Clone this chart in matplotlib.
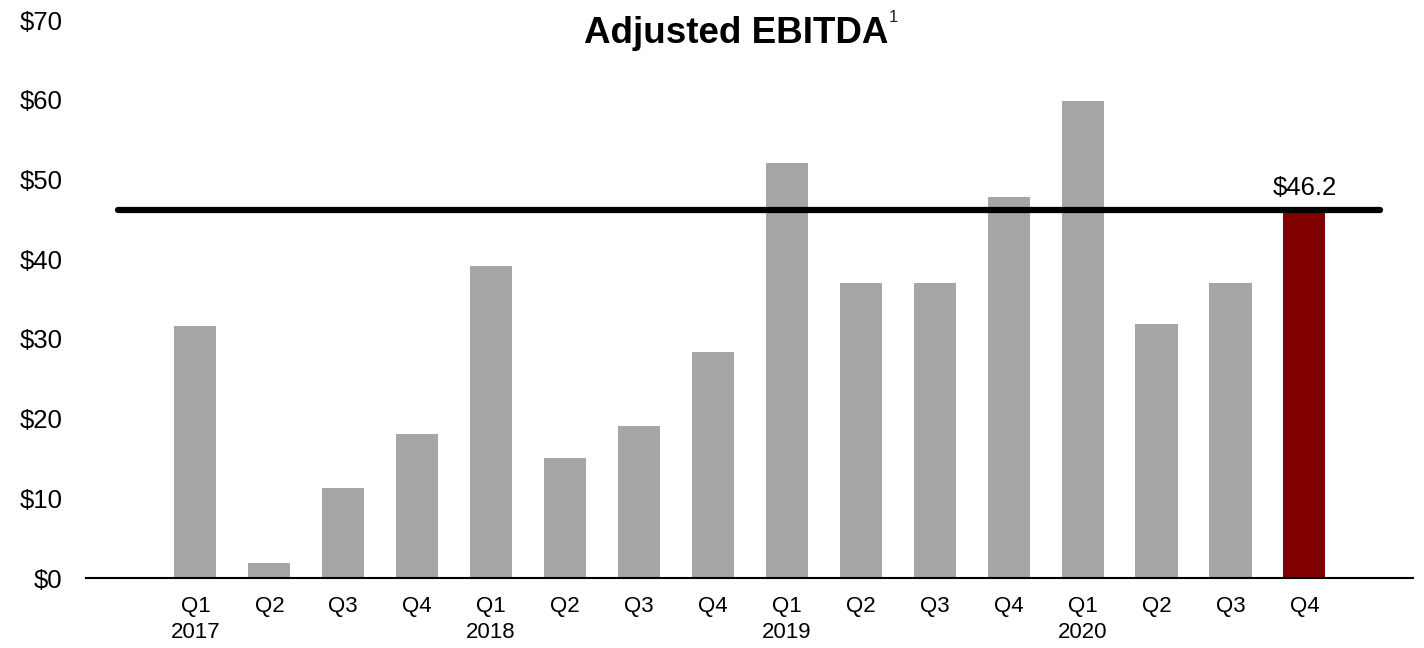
import numpy as np
import matplotlib.pyplot as plt

plt.rcParams['font.family'] = ['Liberation Sans', 'DejaVu Sans']

# Quarterly Adjusted EBITDA ($M)
quarters = ['Q1\n2017', 'Q2', 'Q3', 'Q4',
            'Q1\n2018', 'Q2', 'Q3', 'Q4',
            'Q1\n2019', 'Q2', 'Q3', 'Q4',
            'Q1\n2020', 'Q2', 'Q3', 'Q4']
ebitda = [31.6, 1.9, 11.3, 18.1,
          39.1, 15.1, 19.1, 28.4,
          52.1, 37.0, 37.0, 47.8,
          59.8, 31.9, 37.0, 46.2]
latest = ebitda[-1]

fig = plt.figure(figsize=(14.24, 6.48), dpi=100)
ax = fig.add_axes([0.0604, 0.108, 0.9319, 0.861])

x = np.arange(len(ebitda))
colors = ['#A6A6A6'] * (len(ebitda) - 1) + ['#800000']
ax.bar(x, ebitda, width=0.57, color=colors, zorder=2)

# reference line at the latest quarter
ax.plot([-1.05, 16.02], [latest, latest], color='black', lw=4.5,
        solid_capstyle='round', zorder=3)
ax.text(x[-1], latest + 2.7, f'${latest:.1f}', ha='center', va='center',
        fontsize=18.5)

ax.set_xlim(-1.48, 16.47)
ax.set_ylim(0, 70)
ax.set_yticks(range(0, 71, 10))
ax.set_yticklabels([f'${v}' for v in range(0, 71, 10)], fontsize=18.5)
ax.set_xticks(x)
ax.set_xticklabels(quarters, fontsize=16, linespacing=1.3)
ax.tick_params(axis='both', length=0)
ax.tick_params(axis='x', pad=13)
ax.tick_params(axis='y', pad=17)

for s in ['top', 'right', 'left']:
    ax.spines[s].set_visible(False)
ax.spines['bottom'].set_linewidth(1.5)
ax.spines['bottom'].set_zorder(4)

title = fig.text(0.517, 0.949, 'Adjusted EBITDA', ha='center', va='center',
                 fontsize=26.5, fontweight='bold')
fig.canvas.draw()
bb = title.get_window_extent().transformed(fig.transFigure.inverted())
fig.text(bb.x1 + 0.0005, 0.973, '1', ha='left', va='center', fontsize=12,
         color='#222222')

fig.savefig('out.png', dpi=100)
